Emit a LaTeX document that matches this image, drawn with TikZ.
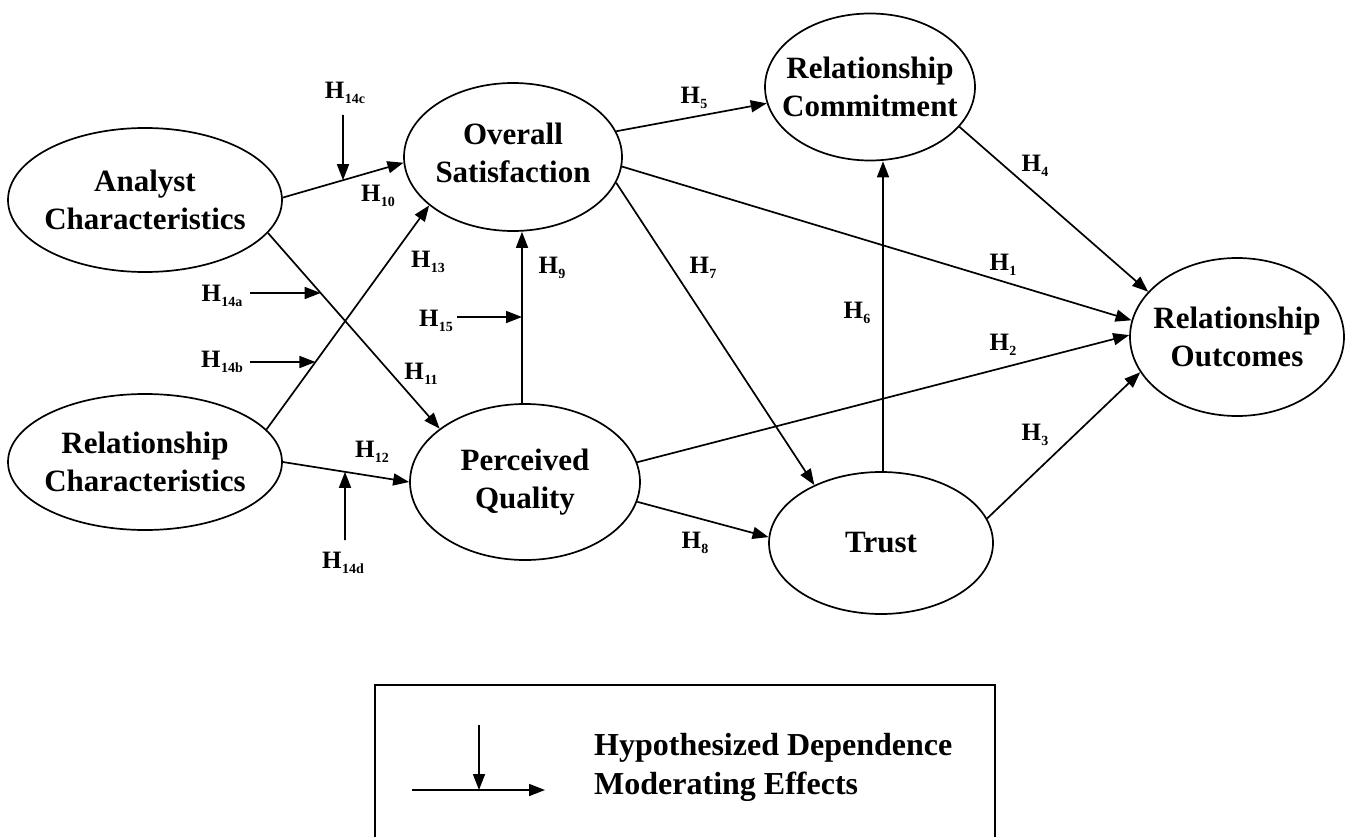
\documentclass[tikz,border=0pt]{standalone}
\usepackage{fontspec}
\setmainfont{Liberation Serif}
\usetikzlibrary{shapes.geometric,arrows.meta,intersections}
\newcommand\hyp[1]{\textbf{H\kern0.5pt\raisebox{-5pt}{\fontsize{14}{14}\selectfont #1}}}
\begin{document}
\begin{tikzpicture}[x=1pt,y=-1pt,
  construct/.style={ellipse,draw,line width=1.7pt,inner sep=0pt},
  ctext/.style={font=\fontsize{31}{38}\selectfont\bfseries,align=center,inner sep=0pt},
  arr/.style={line width=1.7pt,-{Triangle[length=16pt,width=12pt]}},
  hlab/.style={font=\fontsize{25}{25}\selectfont,inner sep=0pt}]
\useasboundingbox (0,0) rectangle (1349,837);
% constructs
\node[construct,minimum width=274pt,minimum height=144pt,label={[ctext]center:Analyst\\Characteristics}] (ac) at (145,200) {};
\node[construct,minimum width=274pt,minimum height=136pt,label={[ctext]center:Relationship\\Characteristics}] (rc) at (145,462) {};
\node[construct,minimum width=218pt,minimum height=148pt,label={[ctext,yshift=4pt]center:Overall\\Satisfaction}] (os) at (513,157) {};
\node[construct,minimum width=210pt,minimum height=147pt,label={[ctext]center:Relationship\\Commitment}] (rcom) at (870,87) {};
\node[construct,minimum width=230pt,minimum height=156pt,label={[ctext]center:Perceived\\Quality}] (pq) at (525,482) {};
\node[construct,minimum width=224pt,minimum height=142pt,label={[ctext]center:Trust}] (tr) at (881,543) {};
\node[construct,minimum width=214pt,minimum height=158pt,label={[ctext]center:Relationship\\Outcomes}] (ro) at (1237,337) {};
% dependence paths
\draw[arr,name path=p10] (ac.1) -- (os.183);
\draw[arr,name path=p11] (ac.-15) -- (pq.148);
\draw[arr,name path=p13] (rc.15) -- (os.210);
\draw[arr,name path=p12] (rc.0) -- (pq.180);
\draw[arr,name path=p9] ([xshift=-3pt]pq.north) -- ([xshift=-3pt]pq.north |- os.south);
\draw[arr] (os.14) -- (rcom.189);
\draw[arr] (os.-5) -- (ro.171);
\draw[arr] (os.-14) -- (tr.139);
\draw[arr] (rcom.-24) -- (ro.153);
\draw[arr] ([xshift=2pt]tr.north) -- ([xshift=2pt]tr.north |- rcom.south);
\draw[arr] (pq.10) -- (ro.179);
\draw[arr] (tr.13) -- (ro.200);
\draw[arr] (pq.-10) -- (tr.177);
% moderators
\coordinate (m14c) at (343,115);
\coordinate (m14a) at (250,293);
\coordinate (m14b) at (250,362);
\coordinate (m14d) at (345,540);
\coordinate (m15) at (457,317);
\path[name path=v14c] (m14c) -- ++(0,150);
\path[name path=v14a] (m14a) -- ++(200,0);
\path[name path=v14b] (m14b) -- ++(200,0);
\path[name path=v14d] (m14d) -- ++(0,-150);
\path[name path=v15] (m15) -- ++(150,0);
\path[name intersections={of=p10 and v14c,by=x14c}];
\path[name intersections={of=p11 and v14a,by=x14a}];
\path[name intersections={of=p13 and v14b,by=x14b}];
\path[name intersections={of=p12 and v14d,by=x14d}];
\path[name intersections={of=p9 and v15,by=x15}];
\draw[arr] (m14c) -- (x14c);
\draw[arr] (m14a) -- (x14a);
\draw[arr] (m14b) -- (x14b);
\draw[arr] (m14d) -- (x14d);
\draw[arr] (m15) -- (x15);
% labels
\node[hlab] (l14c) at (345,93) {\hyp{14c}};
\node[hlab] (l10) at (378,196) {\hyp{10}};
\node[hlab] (l13) at (428,262) {\hyp{13}};
\node[hlab] (l11) at (421,374) {\hyp{11}};
\node[hlab] (l12) at (372,452) {\hyp{12}};
\node[hlab] (l14a) at (222,296) {\hyp{14a}};
\node[hlab] (l14b) at (222,362) {\hyp{14b}};
\node[hlab] (l14d) at (343,563) {\hyp{14d}};
\node[hlab] (l15) at (436,321) {\hyp{15}};
\node[hlab] (l9) at (552,268) {\hyp{9}};
\node[hlab] (l5) at (694,98) {\hyp{5}};
\node[hlab] (l7) at (703,268) {\hyp{7}};
\node[hlab] (l1) at (1003,265) {\hyp{1}};
\node[hlab] (l4) at (1035,166) {\hyp{4}};
\node[hlab] (l6) at (857,313) {\hyp{6}};
\node[hlab] (l2) at (1003,345) {\hyp{2}};
\node[hlab] (l3) at (1035,435) {\hyp{3}};
\node[hlab] (l8) at (695,543) {\hyp{8}};
% legend
\draw[line width=1.7pt] (375,685) rectangle (995,870);
\coordinate (lv) at (479,725);
\coordinate (lh1) at (412,790);
\coordinate (lh2) at (545,790);
\draw[arr] (lh1) -- (lh2);
\draw[arr] (lv) -- (lv |- lh1);
\node[ctext,font=\fontsize{32}{39}\selectfont\bfseries,align=left,anchor=west] (legtext) at (594,767) {Hypothesized Dependence\\Moderating Effects};
\end{tikzpicture}
\end{document}
